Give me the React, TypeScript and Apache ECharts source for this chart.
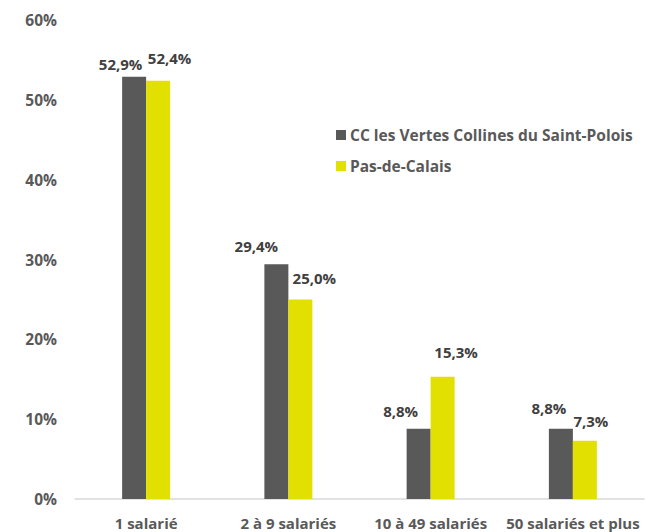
import React, { useEffect, useRef } from "react";
import * as echarts from "echarts";

const categories = ["1 salarié", "2 à 9 salariés", "10 à 49 salariés", "50 salariés et plus"];
const seriesNames = ["CC les Vertes Collines du Saint-Polois", "Pas-de-Calais"];
const ccValues = [52.9, 29.4, 8.8, 8.8];
const pdcValues = [52.4, 25.0, 15.3, 7.3];
const yTicks = { min: 0, max: 60, interval: 10 };

const FONT = "Open Sans";
const darkColor = "#595959";
const yellowColor = "#e1e000";
// label placement tweaks (style only): [dx, height of label centre above bar top]
const ccLabelPos = [[-13.5, 13], [-20, 18.5], [-18, 18], [-12, 21]];
const pdcLabelPos = [[11.5, 23], [14, 21.5], [13.5, 25], [6, 20]];

const fmt = (v: number) => v.toFixed(1).replace(".", ",") + "%";

export default function App() {
  const ref = useRef<HTMLDivElement>(null);
  useEffect(() => {
    if (!ref.current) return;
    const chart = echarts.init(ref.current, null, { renderer: "svg" });
    const mk = (name: string, vals: number[], color: string, pos: number[][]) => ({
      name,
      type: "bar",
      barWidth: 24,
      barGap: "0%",
      itemStyle: { color },
      data: vals.map((v, i) => ({
        value: v,
        label: {
          show: true,
          position: "top",
          distance: 0,
          offset: [pos[i][0], -(pos[i][1] - 8)],
          formatter: () => fmt(v),
          color: "#404040",
          fontFamily: FONT,
          fontWeight: "bold",
          fontSize: 15,
        },
      })),
    });
    chart.setOption({
      animation: false,
      grid: { left: 75, right: 1, top: 20, bottom: 33 },
      legend: {
        orient: "vertical",
        left: 331,
        top: 122,
        itemWidth: 10,
        itemHeight: 10,
        itemGap: 15,
        icon: "rect",
        textStyle: { color: "#595959", fontFamily: FONT, fontWeight: "bold", fontSize: 15.5, padding: [0, 0, 0, -1] },
        data: seriesNames,
      },
      xAxis: {
        type: "category",
        data: categories,
        axisLine: { lineStyle: { color: "#d9d9d9", width: 1.5 } },
        axisTick: { show: false },
        axisLabel: {
          color: "#595959",
          fontFamily: FONT,
          fontWeight: "bold",
          fontSize: 15,
          margin: 16,
          interval: 0,
        },
      },
      yAxis: {
        type: "value",
        min: yTicks.min,
        max: yTicks.max,
        interval: yTicks.interval,
        axisLine: { show: false },
        axisTick: { show: false },
        splitLine: { show: false },
        axisLabel: {
          formatter: "{value}%",
          color: "#595959",
          fontFamily: FONT,
          fontWeight: "bold",
          fontSize: 15.5,
          margin: 18,
        },
      },
      series: [
        mk(seriesNames[0], ccValues, darkColor, ccLabelPos),
        mk(seriesNames[1], pdcValues, yellowColor, pdcLabelPos),
      ],
    });
    return () => chart.dispose();
  }, []);
  return <div ref={ref} style={{ width: 645, height: 532, position: "absolute", left: 0, top: 0 }} />;
}
